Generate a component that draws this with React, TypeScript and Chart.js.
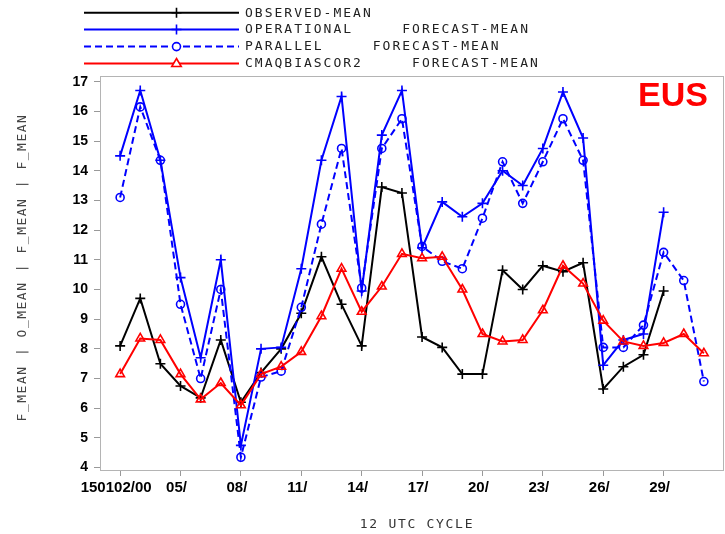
import React, { useEffect, useRef } from "react";
import { Chart, registerables } from "chart.js";

Chart.register(...registerables);

const days = [2, 3, 4, 5, 6, 7, 8, 9, 10, 11, 12, 13, 14, 15, 16, 17, 18, 19, 20, 21, 22, 23, 24, 25, 26, 27, 28, 29, 30, 31];
const tickDays = [2, 5, 8, 11, 14, 17, 20, 23, 26, 29];
const tickLabels = ["150102/00", "05/", "08/", "11/", "14/", "17/", "20/", "23/", "26/", "29/"];
const yTicks = [4, 5, 6, 7, 8, 9, 10, 11, 12, 13, 14, 15, 16, 17];

const observedMean = [8.1, 9.7, 7.5, 6.75, 6.35, 8.3, 6.2, 7.2, 8.0, 9.2, 11.1, 9.5, 8.1, 13.45, 13.25, 8.4, 8.05, 7.15, 7.15, 10.65, 10.0, 10.8, 10.6, 10.9, 6.65, 7.4, 7.8, 9.95, null, null];
const operationalMean = [14.5, 16.7, 14.35, 10.4, 7.7, 11.0, 4.75, 8.0, 8.05, 10.7, 14.35, 16.5, 9.95, 15.2, 16.7, 11.4, 12.95, 12.45, 12.9, 14.0, 13.5, 14.75, 16.65, 15.1, 7.45, 8.3, 8.5, 12.6, null, null];
const parallelMean = [13.1, 16.15, 14.35, 9.5, 7.0, 10.0, 4.35, 7.05, 7.25, 9.4, 12.2, 14.75, 10.05, 14.75, 15.75, 11.45, 10.95, 10.7, 12.4, 14.3, 12.9, 14.3, 15.75, 14.35, 8.05, 8.05, 8.8, 11.25, 10.3, 6.9];
const cmaqMean = [7.15, 8.35, 8.3, 7.15, 6.3, 6.85, 6.1, 7.15, 7.4, 7.9, 9.1, 10.7, 9.25, 10.1, 11.2, 11.05, 11.1, 10.0, 8.5, 8.25, 8.3, 9.3, 10.8, 10.2, 8.95, 8.25, 8.1, 8.2, 8.5, 7.85];

const legendLabels = [
  "OBSERVED-MEAN",
  "OPERATIONAL     FORECAST-MEAN",
  "PARALLEL     FORECAST-MEAN",
  "CMAQBIASCOR2     FORECAST-MEAN",
];
const yTitle = "F_MEAN | O_MEAN | F_MEAN | F_MEAN";
const xTitle = "12 UTC CYCLE";
const regionLabel = "EUS";

const toPoints = (vals: (number | null)[]) => days.map((d, i) => ({ x: d, y: vals[i] }));

function drawMarker(ctx: CanvasRenderingContext2D, style: string, x: number, y: number, r: number) {
  ctx.beginPath();
  if (style === "cross") {
    ctx.moveTo(x - r, y);
    ctx.lineTo(x + r, y);
    ctx.moveTo(x, y - r);
    ctx.lineTo(x, y + r);
    ctx.stroke();
  } else if (style === "circle") {
    ctx.fillStyle = "#fff";
    ctx.arc(x, y, r, 0, Math.PI * 2);
    ctx.fill();
    ctx.stroke();
  } else if (style === "triangle") {
    ctx.fillStyle = "#fff";
    ctx.moveTo(x, y - r);
    ctx.lineTo(x + r * 0.95, y + r * 0.6);
    ctx.lineTo(x - r * 0.95, y + r * 0.6);
    ctx.closePath();
    ctx.fill();
    ctx.stroke();
  }
}

const decorPlugin = {
  id: "decor",
  beforeDatasetsDraw(chart: any) {
    const { ctx, chartArea: a } = chart;
    ctx.save();
    ctx.strokeStyle = "#b4b4b4";
    ctx.lineWidth = 1;
    ctx.strokeRect(a.left + 0.5, a.top + 0.5, a.right - a.left - 1, a.bottom - a.top);
    ctx.restore();
  },
  afterDraw(chart: any) {
    const { ctx } = chart;
    ctx.save();
    const rows = [12.7, 29.5, 46.6, 63.5];
    chart.data.datasets.forEach((ds: any, i: number) => {
      const y = rows[i];
      ctx.strokeStyle = ds.borderColor;
      ctx.lineWidth = 2;
      ctx.setLineDash(ds.borderDash || []);
      ctx.beginPath();
      ctx.moveTo(84, y);
      ctx.lineTo(239, y);
      ctx.stroke();
      ctx.setLineDash([]);
      ctx.lineWidth = 1.6;
      drawMarker(ctx, ds.pointStyle, 176.5, y, ds.pointStyle === "circle" ? 4 : 5);
      ctx.fillStyle = "#222";
      ctx.font = "13px 'DejaVu Sans Mono'";
      (ctx as any).letterSpacing = "2px";
      ctx.textBaseline = "middle";
      ctx.textAlign = "left";
      ctx.fillText(legendLabels[i], 245, y + 0.5);
      (ctx as any).letterSpacing = "0px";
    });
    ctx.fillStyle = "#333";
    ctx.font = "13px 'DejaVu Sans Mono'";
    (ctx as any).letterSpacing = "1.7px";
    ctx.textAlign = "center";
    ctx.textBaseline = "middle";
    ctx.fillText(xTitle, 417, 525);
    ctx.save();
    ctx.translate(22.5, 267.5);
    ctx.rotate(-Math.PI / 2);
    ctx.fillStyle = "#444";
    (ctx as any).letterSpacing = "1.5px";
    ctx.fillText(yTitle, 0, 0);
    ctx.restore();
    (ctx as any).letterSpacing = "0px";
    ctx.fillStyle = "#ff0000";
    ctx.font = "bold 34px 'Liberation Sans'";
    ctx.textAlign = "right";
    ctx.textBaseline = "alphabetic";
    ctx.fillText(regionLabel, 708, 106);
    ctx.restore();
  },
};

export default function App() {
  const ref = useRef<HTMLCanvasElement>(null);
  useEffect(() => {
    const chart = new Chart(ref.current!, {
      type: "line",
      data: {
        datasets: [
          {
            label: "OBSERVED-MEAN",
            data: toPoints(observedMean),
            borderColor: "#000000",
            backgroundColor: "#000000",
            borderWidth: 2,
            pointStyle: "cross",
            pointRadius: 5,
            pointBorderWidth: 1.6,
            order: 4,
          },
          {
            label: "OPERATIONAL FORECAST-MEAN",
            data: toPoints(operationalMean),
            borderColor: "#0000ff",
            backgroundColor: "#0000ff",
            borderWidth: 2,
            pointStyle: "cross",
            pointRadius: 5,
            pointBorderWidth: 1.6,
            order: 3,
          },
          {
            label: "PARALLEL FORECAST-MEAN",
            data: toPoints(parallelMean),
            borderColor: "#0000ff",
            backgroundColor: "rgba(255,255,255,0)",
            borderWidth: 2,
            borderDash: [7, 4],
            pointStyle: "circle",
            pointRadius: 4,
            pointBorderWidth: 1.6,
            order: 2,
          },
          {
            label: "CMAQBIASCOR2 FORECAST-MEAN",
            data: toPoints(cmaqMean),
            borderColor: "#ff0000",
            backgroundColor: "rgba(255,255,255,0)",
            borderWidth: 2,
            pointStyle: "triangle",
            pointRadius: 5,
            pointBorderWidth: 1.6,
            order: 1,
          },
        ] as any,
      },
      options: {
        animation: false,
        responsive: false,
        devicePixelRatio: 1,
        layout: { autoPadding: false, padding: { top: 76, right: 1, left: 0, bottom: 0 } },
        elements: { line: { tension: 0 } },
        plugins: { legend: { display: false }, tooltip: { enabled: false }, title: { display: false } },
        scales: {
          x: {
            type: "linear",
            min: 1,
            max: 32,
            afterBuildTicks: (s: any) => {
              s.ticks = tickDays.map((v) => ({ value: v }));
            },
            afterFit: (s: any) => {
              s.height = 64;
              s.paddingLeft = 0;
              s.paddingRight = 0;
            },
            ticks: {
              autoSkip: false,
              maxRotation: 0,
              minRotation: 0,
              padding: 3,
              labelOffset: -4,
              color: "#000",
              font: { family: "'Liberation Sans'", weight: "bold", size: 15 },
              callback: (_v: any, i: number) => tickLabels[i],
            },
            grid: { drawOnChartArea: false, drawTicks: true, tickLength: 6, color: "#999" },
            border: { display: false },
          },
          y: {
            type: "linear",
            min: 3.92,
            max: 17.19,
            afterBuildTicks: (s: any) => {
              s.ticks = yTicks.map((v) => ({ value: v }));
            },
            afterFit: (s: any) => {
              s.width = 100;
              s.paddingTop = 0;
              s.paddingBottom = 0;
            },
            ticks: {
              padding: 6,
              color: "#000",
              font: { family: "'Liberation Sans'", weight: "bold", size: 14 },
              callback: (v: any) => String(v),
            },
            grid: { drawOnChartArea: false, drawTicks: true, tickLength: 6, color: "#999" },
            border: { display: false },
          },
        },
      },
      plugins: [decorPlugin],
    } as any);
    return () => chart.destroy();
  }, []);
  return (
    <div style={{ position: "absolute", left: 0, top: 0, width: 725, height: 534, background: "#fff" }}>
      <canvas ref={ref} width={725} height={534} style={{ width: 725, height: 534, display: "block" }} />
    </div>
  );
}
